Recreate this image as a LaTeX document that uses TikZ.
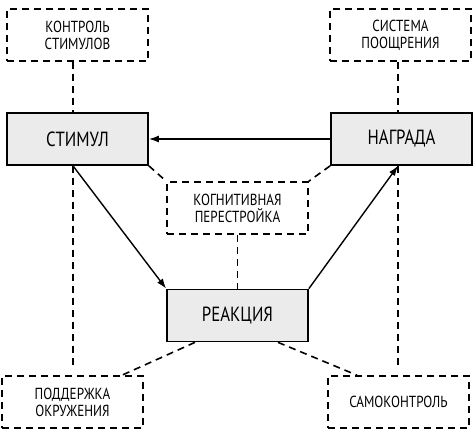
\documentclass[tikz,border=0pt]{standalone}
\usepackage{fontspec}
\setmainfont{PT Sans}[FakeStretch=0.82]
\usetikzlibrary{arrows.meta}
\begin{document}
\begin{tikzpicture}[x=1pt,y=-1pt,
  mainbox/.style={draw, line width=1.7pt, fill=black!8, minimum width=141pt, minimum height=52pt, inner sep=0pt, font=\fontsize{20.5}{22}\selectfont},
  sidebox/.style={draw, line width=1.6pt, dash pattern=on 7pt off 5pt, minimum width=141pt, minimum height=52pt, inner sep=0pt, align=center, font=\fontsize{16}{17}\selectfont},
  dline/.style={line width=1.6pt, dash pattern=on 7pt off 5pt},
  sline/.style={line width=1.4pt, -{Latex[length=10pt,width=7pt]}}]
\useasboundingbox (0,0) rectangle (475,431);
\node[sidebox] (ks) at (77.5,35) {КОНТРОЛЬ\\СТИМУЛОВ};
\node[sidebox] (sp) at (400.5,35) {СИСТЕМА\\ПООЩРЕНИЯ};
\node[mainbox] (st) at (77.5,139) {СТИМУЛ};
\node[mainbox] (na) at (401.5,139) {НАГРАДА};
\node[sidebox] (kp) at (237.5,208) {КОГНИТИВНАЯ\\ПЕРЕСТРОЙКА};
\node[mainbox] (re) at (237.5,315.5) {РЕАКЦИЯ};
\node[sidebox] (po) at (72.5,402) {ПОДДЕРЖКА\\ОКРУЖЕНИЯ};
\node[sidebox] (sk) at (398.5,402) {САМОКОНТРОЛЬ};
\coordinate (stb) at (st.south -| 73,0);
\coordinate (nab) at (na.south -| 398,0);
\draw[dline] (ks.south -| 73,0) -- (st.north -| 73,0);
\draw[dline] (sp.south -| 398,0) -- (na.north -| 398,0);
\draw[dline] (stb) -- (73,368);
\draw[dline] (nab) -- (398,368);
\draw[dline] (st.south east) -- (kp.north west);
\draw[dline] (na.south west) -- (kp.north east);
\draw[dline] (kp.south) -- (re.north);
\draw[dline] (re.south -| 195,0) -- (po.north -| 122,0);
\draw[dline] (re.south -| 278,0) -- (sk.north -| 357,0);
\draw[sline] (stb) -- (re.north west);
\draw[sline] (re.north east) -- (nab);
\draw[sline] (na.west) -- (st.east);
\end{tikzpicture}
\end{document}
